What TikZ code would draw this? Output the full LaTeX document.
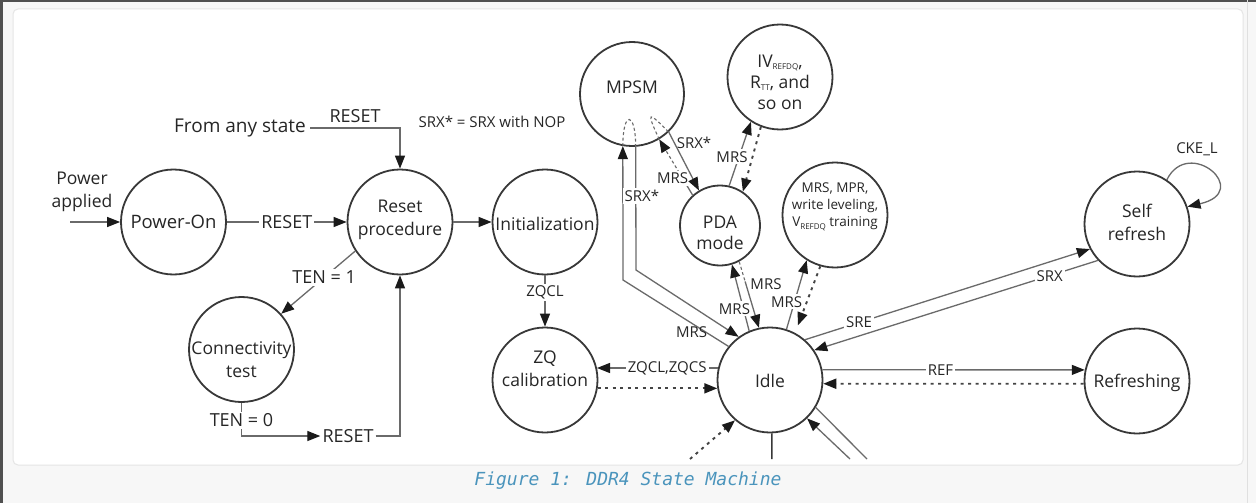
\documentclass[tikz,border=0pt]{standalone}
\usepackage{fontspec}
\newfontfamily\df{Open Sans}
\newfontfamily\capfont{DejaVu Sans Mono}
\usetikzlibrary{arrows.meta}
\definecolor{circ}{HTML}{383838}
\definecolor{lnc}{HTML}{6A6A6A}
\definecolor{txc}{HTML}{262626}
\definecolor{dotc}{HTML}{444444}
\definecolor{tipc}{HTML}{1A1A1A}
\definecolor{capc}{HTML}{4A94BC}
\definecolor{bgc}{HTML}{F7F7F7}
\definecolor{framec}{HTML}{505050}
\newcommand\subx[1]{\raisebox{-2.5pt}{\fontsize{8}{8}\selectfont #1}}
\begin{document}
\begin{tikzpicture}[x=1pt,y=-1pt,
  st/.style={circle,draw=circ,line width=1.8pt,inner sep=0pt,minimum size=105pt},
  tx/.style={align=center,text=txc,font=\df\fontsize{17.5}{23}\selectfont,inner sep=0pt},
  txs/.style={tx,font=\df\fontsize{13.5}{17}\selectfont},
  ln/.style={draw=lnc,line width=1.3pt},
  dot/.style={draw=dotc,line width=1.9pt,dash pattern=on 3pt off 4.5pt},
  dsh/.style={draw=lnc,line width=1.1pt,dash pattern=on 3pt off 2.5pt},
  arw/.style={-{Triangle[length=13pt,width=10pt,color=tipc]}},
  lbl/.style={fill=white,inner sep=2pt,text=txc,font=\df\fontsize{15}{18}\selectfont},
  lblb/.style={lbl,font=\df\fontsize{18}{20}\selectfont}]
\useasboundingbox (0,0) rectangle (1256,503);
% page frame
\fill[bgc] (0,0) rectangle (1256,503);
\fill[framec] (0,0) rectangle (1256,2.5);
\fill[framec] (0,0) rectangle (2.5,503);
\draw[black!12,line width=1pt] (1247,0) -- (1247,503);
\filldraw[fill=white,draw=black!10,line width=1pt,rounded corners=5pt] (13,9) rectangle (1243,465);
\node[font=\capfont\itshape\fontsize{18}{20}\selectfont,text=capc] (cap) at (628,481) {Figure 1: DDR4 State Machine};

% states
\node[st] (pon) at (173.5,222) {};
\node[st] (rst) at (400,222) {};
\node[st] (init) at (545,222) {};
\node[st] (conn) at (241.5,349.5) {};
\node[st] (zq) at (545,380) {};
\node[st] (idle) at (770,380) {};
\node[st,minimum size=104pt] (mpsm) at (632,94) {};
\node[st] (iv) at (780,77) {};
\node[st,minimum size=80pt] (pda) at (720,225.5) {};
\node[st] (mrsc) at (835,215) {};
\node[st] (self) at (1137,224) {};
\node[st] (refr) at (1137,381) {};

\node[tx,font=\df\fontsize{18.5}{23}\selectfont] (ponT) at (173.5,222) {Power-On};
\node[tx] (rstT) at (400,220) {Reset\\procedure};
\node[tx] (initT) at (545,224) {Initialization};
\node[tx] (connT) at (241.5,360) {Connectivity\\test};
\node[tx] (zqT) at (545,368.5) {ZQ\\calibration};
\node[tx] (idleT) at (770,381) {Idle};
\node[tx] (mpsmT) at (632,87) {MPSM};
\node[tx,font=\df\fontsize{17.5}{21}\selectfont] (ivT) at (780,82) {IV\subx{REFDQ},\\R\subx{TT}, and\\so on};
\node[tx,font=\df\fontsize{17.5}{21}\selectfont] (pdaT) at (720,232.5) {PDA\\mode};
\node[txs] (mrscT) at (835,207) {MRS, MPR,\\write leveling,\\V\subx{REFDQ} training};
\node[tx] (selfT) at (1137,222) {Self\\refresh};
\node[tx] (refrT) at (1137,383) {Refreshing};

% free texts
\node[tx] (pa) at (82,191.5) {Power\\applied};
\coordinate (paS) at (70,222);
\node[tx,inner xsep=4pt,font=\df\fontsize{19}{23}\selectfont] (fas) at (240,128) {From any state};
\node[tx,font=\df\fontsize{15}{18}\selectfont] (note) at (492,122) {SRX* = SRX with NOP};
\node[lblb] (rstL) at (348,436) {RESET};

% connectors: left part
\draw[ln,arw] (paS) -- (pon.west);
\draw[ln,arw] (pon.east) -- node[lblb]{RESET} (rst.west);
\draw[ln,arw] (fas.east) -| node[lblb,fill=none,pos=0.25,above=3pt]{RESET} (rst.north);
\draw[ln,arw] (rst.213) -- node[lblb,pos=0.42]{TEN = 1} (conn.42);
\draw[ln,arw] (conn.south) |- node[lblb,pos=0.26]{TEN = 0} (rstL.west);
\draw[ln,arw] (rstL.east) -| (rst.south);
\draw[ln,arw] (rst.east) -- (init.west);
\draw[ln,arw] (init.south) -- node[lbl,pos=0.33]{ZQCL} (zq.north);

% idle horizontal
\draw[ln,arw] (idle.167) -- node[lbl,pos=0.42]{ZQCL,ZQCS} (zq.13);
\draw[dot,arw] (zq.-9) -- (idle.189);
\draw[ln,arw] (idle.11) -- node[lbl,pos=0.45]{REF} (refr.168);
\draw[dot,arw] (refr.183) -- (idle.-4);
\draw[ln,arw] (idle.49) -- node[lbl,pos=0.19]{SRE} (self.208);
\draw[ln,arw] (self.223) -- node[lbl,pos=0.17]{SRX} (idle.34);
\draw[ln,arw] (self.56) .. controls +(22,-44) and +(66,-15) .. (self.19);
\node[lbl,fill=none] (ckel) at (1197,149) {CKE\_L};

% MPSM <-> idle
\coordinate (bendA) at (623,280);
\coordinate (bendB) at (636,270);
\draw[ln,arw] (idle.141) -- node[lbl,fill=none,pos=0.35,yshift=-9pt]{MRS} (bendA) -- (mpsm.-100);
\draw[ln,arw] (mpsm.-86) -- node[lbl,pos=0.4,xshift=6pt]{SRX*} (bendB) -- (idle.126);
\draw[dsh] (mpsm.-100) .. controls +(0,-36) and +(0,-36) .. (mpsm.-86);
\draw[dsh] (mpsm.-59) .. controls +(-14,-30) and +(-20,-20) .. (mpsm.-46);

% MPSM <-> PDA
\path (pda.132) -- coordinate[pos=0.4] (pmA) (mpsm.-59);
\draw[ln] (pda.132) -- (pmA);
\draw[dsh,arw] (pmA) -- (mpsm.-59);
\path (pda.132) -- node[lbl,pos=0.3,xshift=-10pt]{MRS} (mpsm.-59);
\draw[ln,arw] (mpsm.-46) -- node[lbl,fill=none,pos=0.18,right=0pt]{SRX*} (pda.121);

% PDA <-> IV
\draw[ln,arw] (pda.77) -- node[lbl,pos=0.45,xshift=-7pt]{MRS} (iv.-123);
\draw[dot,arw] (iv.-111) -- (pda.56);

% idle <-> PDA
\draw[ln,arw] (idle.113) -- node[lbl,pos=0.33,xshift=-9pt]{MRS} (pda.-73);
\path (pda.-62) -- coordinate[pos=0.3] (pdA) (idle.102);
\draw[dsh] (pda.-62) -- (pdA);
\draw[ln,arw] (pdA) -- node[lbl,fill=none,pos=0.05,right=2pt]{MRS} (idle.102);

% idle <-> MRS/MPR
\draw[ln,arw] (idle.72) -- node[lbl,pos=0.4,xshift=-8pt]{MRS} (mrsc.-122);
\draw[dot,arw,shorten >=8pt] (mrsc.-106) -- (idle.62);

% bottom stubs
\coordinate (bs1) at (690,459);
\coordinate (bs2) at (771.8,459);
\coordinate (bs3) at (867,459);
\coordinate (bs4) at (850,459);
\draw[dot,arw] (bs1) -- (idle.-131);
\draw[draw=circ,line width=1.6pt] (idle.-88) -- (bs2);
\draw[ln] (idle.-31) -- (bs3);
\draw[ln,arw] (bs4) -- (idle.-46);
\end{tikzpicture}
\end{document}
